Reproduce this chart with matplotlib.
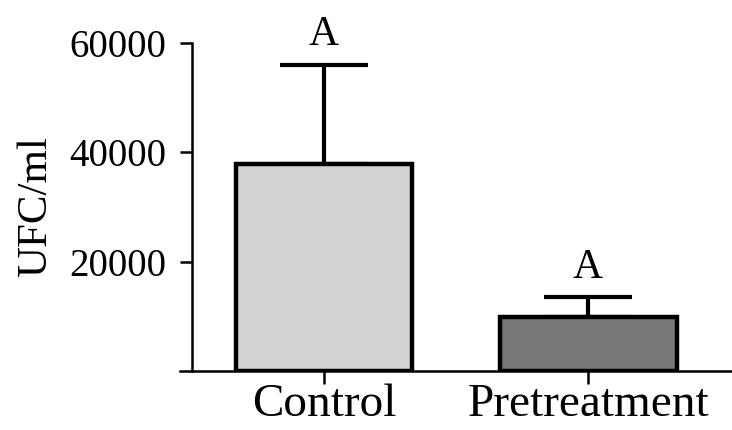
import matplotlib.pyplot as plt
import numpy as np

# datos
grupos = ['Control', 'Pretreatment']
medias = [37900, 9900]
error_sup = [18100, 3600]
letras = ['A', 'A']
colores = ['#d2d2d2', '#787878']

plt.rcParams['font.family'] = ['Liberation Serif', 'DejaVu Serif']

fig = plt.figure(figsize=(7.32, 4.30), dpi=100)
ax = fig.add_axes([0.246, 0.137, 0.754, 0.763])

x = np.arange(len(grupos))
ax.bar(x, medias, width=0.67, color=colores, edgecolor='black', linewidth=3.2, zorder=2)
ax.errorbar(x, medias, yerr=[[0] * len(medias), error_sup], fmt='none',
            ecolor='black', elinewidth=3, capsize=32, capthick=3, zorder=1)

# letras de significancia
for xi, m, e, l in zip(x, medias, error_sup, letras):
    ax.annotate(l, (xi, m + e), xytext=(0, 14), textcoords='offset points',
                ha='center', va='baseline', fontsize=30, annotation_clip=False)

ax.set_xlim(-0.545, 1.545)
ax.set_ylim(0, 60000)
ax.set_yticks([20000, 40000, 60000])
ax.set_xticks(x)
ax.set_xticklabels(grupos, fontsize=34)
ax.set_ylabel('UFC/ml', fontsize=31, labelpad=10)

ax.spines['top'].set_visible(False)
ax.spines['right'].set_visible(False)
ax.spines['left'].set_position(('data', -0.5))
ax.spines['left'].set_linewidth(1.8)
ax.spines['bottom'].set_linewidth(1.8)
ax.tick_params(axis='y', labelsize=28, length=8.6, width=1.8, pad=10)
ax.tick_params(axis='x', length=9, width=1.8, pad=0)

plt.savefig('out.png', dpi=100)
plt.close()
